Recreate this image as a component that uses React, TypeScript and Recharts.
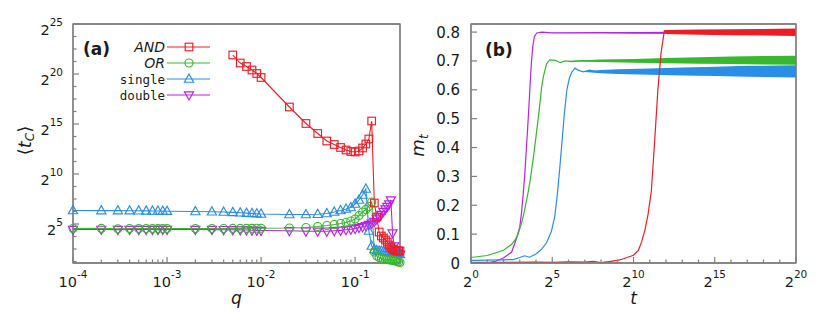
import React from 'react';
import { ComposedChart, Line, Area, XAxis, YAxis, Legend, ReferenceArea } from 'recharts';

const FONT = '"DejaVu Sans", "Liberation Sans", Arial, sans-serif';
const MONO = '"DejaVu Sans Mono", "Liberation Mono", monospace';
const FRAME = '#808080';
const INK = '#1a1a1a';

const RED = '#ee1c25';
const GREEN = '#37b82e';
const BLUE = '#2a8de6';
const PURPLE = '#bb22e8';

// ---- panel (a): <t_C> against q, values are log2 <t_C>
const qValues = [
  0.0001, 0.0002, 0.0003, 0.0004, 0.0005, 0.0006, 0.0007, 0.0008, 0.0009, 0.001,
  0.002, 0.003, 0.004, 0.005, 0.006, 0.007, 0.008, 0.009, 0.01,
  0.02, 0.03, 0.04, 0.05, 0.06, 0.07, 0.08, 0.09, 0.1,
  0.11, 0.12, 0.13, 0.14, 0.15, 0.16, 0.17, 0.18, 0.19, 0.2,
  0.21, 0.22, 0.23, 0.24, 0.25, 0.26, 0.27, 0.28, 0.29, 0.3,
];
// AND only starts at q = 0.005
const andFirst = 13;
const andLog2 = [
  21.9, 21.1, 20.75, 20.4, 20.05, 19.65,
  16.7, 15.05, 14.05, 13.3, 12.95, 12.65, 12.4, 12.25, 12.2,
  12.3, 12.6, 13.0, 13.5, 15.3, 7.1, 5.7, 4.2, 3.8, 3.6,
  3.4, 3.2, 2.9, 2.65, 2.5, 2.4, 2.35, 2.3, 2.3, 2.3,
];
const orLog2 = [
  4.55, 4.56, 4.53, 4.55, 4.54, 4.55, 4.55, 4.54, 4.55, 4.55,
  4.55, 4.55, 4.55, 4.56, 4.56, 4.57, 4.57, 4.58, 4.58,
  4.6, 4.65, 4.75, 4.85, 4.95, 5.05, 5.15, 5.3, 5.5,
  5.85, 6.2, 6.45, 6.75, 7.2, 2.2, 1.8, 1.65, 1.55, 1.5,
  1.45, 1.45, 1.4, 1.4, 1.35, 1.35, 1.3, 1.25, 1.2, 1.15,
];
const singleLog2 = [
  6.35, 6.34, 6.34, 6.33, 6.32, 6.31, 6.3, 6.3, 6.29, 6.28,
  6.25, 6.22, 6.2, 6.16, 6.12, 6.09, 6.06, 6.03, 6.0,
  5.95, 5.95, 5.97, 6.05, 6.2, 6.35, 6.5, 6.65, 7.0,
  7.4, 7.9, 8.5, 4.3, 2.8, 2.45, 2.35, 2.3, 2.3, 2.25,
  2.25, 2.2, 2.2, 2.15, 2.15, 2.1, 2.05, 2.0, 2.0, 1.95,
];
const doubleLog2 = [
  4.45, 4.46, 4.44, 4.45, 4.44, 4.45, 4.45, 4.44, 4.45, 4.45,
  4.45, 4.44, 4.43, 4.42, 4.41, 4.4, 4.38, 4.36, 4.35,
  4.32, 4.28, 4.27, 4.28, 4.32, 4.36, 4.42, 4.48, 4.55,
  4.65, 4.72, 4.82, 4.95, 5.08, 5.25, 5.5, 5.7, 5.95, 6.25,
  6.5, 6.75, 7.0, 7.4, 4.1, 2.8, 2.3, 2.1, 2.0, 1.95,
];

const qMajors = [0.0001, 0.001, 0.01, 0.1];
const qMin = 0.0001;
const qMax = 0.3;
const tcMajorExps = [5, 10, 15, 20, 25];
const tcMin = 2 ** 1.1;
const tcMax = 2 ** 25;

// ---- panel (b): m_t against t, x values are log2 t
const doubleT = [0, 1, 1.5, 2, 2.5, 2.8, 3, 3.1, 3.2, 3.3, 3.4, 3.5, 3.6, 3.7, 3.8, 3.9, 4.05, 4.35, 5, 6, 8, 10, 12];
const doubleM = [0, 0, 0.006, 0.017, 0.038, 0.085, 0.125, 0.17, 0.23, 0.3, 0.39, 0.48, 0.58, 0.68, 0.75, 0.785, 0.797, 0.8, 0.797, 0.797, 0.798, 0.797, 0.797];
const orT = [0, 1, 2, 2.5, 2.7, 2.9, 3.1, 3.3, 3.5, 3.65, 3.85, 4.15, 4.35, 4.45, 4.65, 4.85, 5.2, 5.5, 5.8, 6.2, 7, 8, 10, 12, 14, 16, 18, 20];
const orM = [0.019, 0.026, 0.044, 0.065, 0.079, 0.1, 0.136, 0.183, 0.24, 0.29, 0.37, 0.506, 0.61, 0.645, 0.69, 0.704, 0.702, 0.694, 0.7, 0.698, 0.701, 0.7, 0.7, 0.7, 0.7, 0.701, 0.7, 0.7];
const singleT = [0, 1, 2, 2.6, 3, 3.3, 3.6, 4, 4.35, 4.65, 4.95, 5.15, 5.3, 5.45, 5.6, 5.75, 5.9, 6.05, 6.2, 6.4, 6.6, 6.9, 7.3, 8, 10, 12, 14, 16, 18, 20];
const singleM = [0.009, 0.01, 0.011, 0.012, 0.019, 0.025, 0.02, 0.031, 0.048, 0.07, 0.11, 0.16, 0.23, 0.32, 0.42, 0.52, 0.6, 0.64, 0.661, 0.675, 0.668, 0.662, 0.668, 0.66, 0.662, 0.662, 0.663, 0.664, 0.664, 0.664];
const andT = [0, 2, 4, 5, 6, 7, 7.5, 8, 8.5, 9, 9.3, 9.6, 10, 10.3, 10.5, 10.7, 10.9, 11.1, 11.3, 11.5, 11.7, 11.9, 12, 14, 16, 18, 20];
const andM = [0.002, 0.002, 0.003, 0.002, 0.004, 0.003, 0.006, 0.001, 0.005, 0.009, 0.013, 0.019, 0.027, 0.044, 0.073, 0.113, 0.17, 0.25, 0.42, 0.6, 0.73, 0.805, 0.8, 0.8, 0.8, 0.799, 0.8];

// spread of the noisy plateaus (log2 t, low, high)
const doubleBandT = [5, 12, 20];
const doubleLo = [0.797, 0.794, 0.792];
const doubleHi = [0.798, 0.801, 0.803];
const orBandT = [6, 8, 10, 12, 14, 16, 18, 20];
const orLo = [0.699, 0.696, 0.694, 0.692, 0.69, 0.689, 0.688, 0.687];
const orHi = [0.701, 0.705, 0.707, 0.71, 0.713, 0.715, 0.717, 0.718];
const singleBandT = [7, 8, 9, 11, 13, 15, 17, 20];
const singleLo = [0.662, 0.657, 0.655, 0.652, 0.65, 0.648, 0.645, 0.643];
const singleHi = [0.664, 0.669, 0.671, 0.674, 0.677, 0.68, 0.683, 0.685];
const andBandT = [11.9, 12, 14, 16, 18, 20];
const andLo = [0.8, 0.793, 0.791, 0.789, 0.788, 0.786];
const andHi = [0.805, 0.807, 0.809, 0.81, 0.811, 0.812];

const mTicks = [0, 0.1, 0.2, 0.3, 0.4, 0.5, 0.6, 0.7, 0.8];
const mMax = 0.828;
const tMajorExps = [0, 5, 10, 15, 20];

// ---- tables
const tcRows = (qs: number[], ex: number[]) => qs.map((q, i) => ({ q, tc: 2 ** ex[i] }));
const andRows = tcRows(qValues.slice(andFirst), andLog2);
const orRows = tcRows(qValues, orLog2);
const singleRows = tcRows(qValues, singleLog2);
const doubleRows = tcRows(qValues, doubleLog2);

const mRows = (ts: number[], ms: number[]) => ts.map((e, i) => ({ t: 2 ** e, m: ms[i] }));
const bandRows = (ts: number[], lo: number[], hi: number[]) => ts.map((e, i) => ({ t: 2 ** e, band: [lo[i], hi[i]] }));

const qTicks: number[] = [];
qMajors.forEach((d) => {
  for (let k = 1; k <= 9; k++) if (k * d <= qMax + 1e-9) qTicks.push(k * d);
});
const tcTicks: number[] = [];
for (let e = 1.25; e <= 25.001; e += 1.25) tcTicks.push(2 ** e);
const tTicks: number[] = [];
for (let e = 0; e <= 20; e++) tTicks.push(2 ** e);

// inward tick marks, labels on bottom / left only
const AxisTick = (props: any) => {
  const { x, y, payload, side, kind } = props;
  const v = payload.value;
  let major = true;
  let base = '';
  let exp = '';
  if (kind === 'q') {
    const e = Math.log10(v);
    major = qMajors.some((m) => Math.abs(m - v) < 1e-12);
    base = '10';
    exp = String(Math.round(e));
  } else if (kind === 'tc' || kind === 't') {
    const e = Math.log2(v);
    const r = Math.round(e);
    const majors = kind === 'tc' ? tcMajorExps : tMajorExps;
    major = Math.abs(e - r) < 1e-6 && majors.includes(r);
    base = '2';
    exp = String(r);
  }
  const len = major ? 6 : 3.5;
  const tl = { stroke: FRAME, strokeWidth: 1.2 };
  let mark;
  if (side === 'bottom') mark = <line x1={x} y1={y} x2={x} y2={y - len} {...tl} />;
  else if (side === 'top') mark = <line x1={x} y1={y} x2={x} y2={y + len} {...tl} />;
  else if (side === 'left') mark = <line x1={x} y1={y} x2={x + len} y2={y} {...tl} />;
  else mark = <line x1={x} y1={y} x2={x - len} y2={y} {...tl} />;

  let label = null;
  if (major && side === 'bottom') {
    label = (
      <text x={x} y={y + 24} textAnchor="middle" fontSize={14.5} fill={INK} fontFamily={FONT}>
        {base}
        <tspan dy={-9} fontSize={10.5}>{exp}</tspan>
      </text>
    );
  } else if (major && side === 'left') {
    if (kind === 'm') {
      label = (
        <text x={x - 11} y={y + 5.5} textAnchor="end" fontSize={15} fill={INK} fontFamily={FONT}>
          {v === 0 ? '0' : v.toFixed(1)}
        </text>
      );
    } else {
      label = (
        <text x={x - 10} y={y + 11} textAnchor="end" fontSize={14.5} fill={INK} fontFamily={FONT}>
          {base}
          <tspan dy={-9} fontSize={10.5}>{exp}</tspan>
        </text>
      );
    }
  }
  return (
    <g>
      {mark}
      {label}
    </g>
  );
};

type Shape = 'square' | 'circle' | 'up' | 'down';

const Marker = ({ cx, cy, shape, color }: { cx: number; cy: number; shape: Shape; color: string }) => {
  if (cx == null || cy == null) return null;
  if (shape === 'square')
    return <rect x={cx - 3.8} y={cy - 3.8} width={7.6} height={7.6} fill="none" stroke={color} strokeWidth={1.15} />;
  if (shape === 'circle') return <circle cx={cx} cy={cy} r={4} fill="none" stroke={color} strokeWidth={1.15} />;
  if (shape === 'up')
    return <path d={`M${cx},${cy - 5} L${cx + 4.6},${cy + 3.2} L${cx - 4.6},${cy + 3.2} Z`} fill="none" stroke={color} strokeWidth={1.15} />;
  return <path d={`M${cx},${cy + 5} L${cx + 4.6},${cy - 3.2} L${cx - 4.6},${cy - 3.2} Z`} fill="none" stroke={color} strokeWidth={1.15} />;
};

const dotOf = (shape: Shape, color: string) => (p: any) => (
  <Marker key={`m-${shape}-${p.index}`} cx={p.cx} cy={p.cy} shape={shape} color={color} />
);

const legendInfo: Record<string, { shape: Shape; mono: boolean; order: number }> = {
  AND: { shape: 'square', mono: false, order: 0 },
  OR: { shape: 'circle', mono: false, order: 1 },
  single: { shape: 'up', mono: true, order: 2 },
  double: { shape: 'down', mono: true, order: 3 },
};

const LegendBox = (props: any) => {
  const items = [...(props.payload || [])]
    .filter((a: any) => legendInfo[a.value])
    .sort((a: any, b: any) => legendInfo[a.value].order - legendInfo[b.value].order);
  return (
    <svg width={230} height={110}>
      {items.map((it: any, i: number) => {
        const info = legendInfo[it.value];
        const cy = 47 + i * 16;
        return (
          <g key={it.value}>
            <text
              x={165}
              y={cy + 5}
              textAnchor="end"
              fill={INK}
              fontSize={info.mono ? 12.5 : 14}
              fontStyle={info.mono ? 'normal' : 'italic'}
              fontFamily={info.mono ? MONO : FONT}
            >
              {it.value}
            </text>
            <line x1={167} y1={cy} x2={210} y2={cy} stroke={it.color} strokeWidth={1.2} />
            <Marker cx={189} cy={cy} shape={info.shape} color={it.color} />
          </g>
        );
      })}
    </svg>
  );
};

const xTitle = (name: string) => (p: any) => (
  <text
    x={p.viewBox.x + p.viewBox.width / 2}
    y={p.viewBox.y + 41}
    textAnchor="middle"
    fontSize={17}
    fontStyle="italic"
    fill={INK}
    fontFamily={FONT}
  >
    {name}
  </text>
);

// y title plus the panel tag in the plot's top-left corner
const tcTitle = (p: any) => (
  <g>
    <text
      transform={`translate(${p.viewBox.x + 18},${p.viewBox.y + p.viewBox.height / 2 - 3}) rotate(-90)`}
      textAnchor="middle"
      fontSize={18}
      fill={INK}
      fontFamily={FONT}
    >
      {'\u27E8'}
      <tspan fontStyle="italic">t</tspan>
      <tspan fontSize={12} dy={3} fontStyle="italic">C</tspan>
      <tspan dy={-3}>{'\u27E9'}</tspan>
    </text>
    <text x={p.viewBox.x + p.viewBox.width + 10} y={p.viewBox.y + 31} fontSize={17} fontWeight="bold" fill={INK} fontFamily={FONT}>
      (a)
    </text>
  </g>
);

const mTitle = (p: any) => (
  <g>
    <text
      transform={`translate(${p.viewBox.x + 13},${p.viewBox.y + p.viewBox.height / 2 + 2}) rotate(-90)`}
      textAnchor="middle"
      fontSize={18}
      fontStyle="italic"
      fill={INK}
      fontFamily={FONT}
    >
      m<tspan fontSize={12} dy={4}>t</tspan>
    </text>
    <text x={p.viewBox.x + p.viewBox.width + 14} y={p.viewBox.y + 32} fontSize={17} fontWeight="bold" fill={INK} fontFamily={FONT}>
      (b)
    </text>
  </g>
);

const axisCommon = {
  type: 'number' as const,
  interval: 0 as const,
  tickSize: 0,
  tickMargin: 0,
  tickLine: false,
  axisLine: { stroke: FRAME, strokeWidth: 1.3 },
};

const PanelA = () => (
  <ComposedChart width={412} height={320} margin={{ top: 23, right: 11, bottom: 0, left: 13 }} style={{ fontFamily: FONT }}>
    <XAxis
      {...axisCommon}
      xAxisId="q"
      dataKey="q"
      scale="log"
      domain={[qMin, qMax]}
      ticks={qTicks}
      height={57}
      tick={<AxisTick side="bottom" kind="q" />}
      label={{ content: xTitle('q') }}
    />
    <XAxis
      {...axisCommon}
      xAxisId="qTop"
      orientation="top"
      scale="log"
      domain={[qMin, qMax]}
      ticks={qTicks}
      height={1}
      tick={<AxisTick side="top" kind="q" />}
    />
    <YAxis
      {...axisCommon}
      yAxisId="tc"
      dataKey="tc"
      scale="log"
      domain={[tcMin, tcMax]}
      ticks={tcTicks}
      width={60}
      tick={<AxisTick side="left" kind="tc" />}
      label={{ content: tcTitle }}
    />
    <YAxis
      {...axisCommon}
      yAxisId="tcRight"
      orientation="right"
      scale="log"
      domain={[tcMin, tcMax]}
      ticks={tcTicks}
      width={1}
      tick={<AxisTick side="right" kind="tc" />}
    />
    <ReferenceArea
      xAxisId="q"
      yAxisId="tc"
      x1={qMin}
      x2={qMax}
      y1={tcMin}
      y2={tcMax}
      fill="none"
      fillOpacity={0}
      stroke={FRAME}
      strokeWidth={1.3}
      strokeOpacity={1}
      ifOverflow="visible"
    />
    <Legend
      layout="vertical"
      align="center"
      verticalAlign="middle"
      wrapperStyle={{ left: 0, top: 0, width: 230, height: 110 }}
      content={<LegendBox />}
    />
    <Line xAxisId="q" yAxisId="tc" data={doubleRows} dataKey="tc" name="double" stroke={PURPLE} strokeWidth={1.1} dot={dotOf('down', PURPLE)} isAnimationActive={false} />
    <Line xAxisId="q" yAxisId="tc" data={singleRows} dataKey="tc" name="single" stroke={BLUE} strokeWidth={1.1} dot={dotOf('up', BLUE)} isAnimationActive={false} />
    <Line xAxisId="q" yAxisId="tc" data={orRows} dataKey="tc" name="OR" stroke={GREEN} strokeWidth={1.1} dot={dotOf('circle', GREEN)} isAnimationActive={false} />
    <Line xAxisId="q" yAxisId="tc" data={andRows} dataKey="tc" name="AND" stroke={RED} strokeWidth={1.1} dot={dotOf('square', RED)} isAnimationActive={false} />
  </ComposedChart>
);

const series = [
  { name: 'double', color: PURPLE, rows: mRows(doubleT, doubleM), band: bandRows(doubleBandT, doubleLo, doubleHi) },
  { name: 'OR', color: GREEN, rows: mRows(orT, orM), band: bandRows(orBandT, orLo, orHi) },
  { name: 'single', color: BLUE, rows: mRows(singleT, singleM), band: bandRows(singleBandT, singleLo, singleHi) },
  { name: 'AND', color: RED, rows: mRows(andT, andM), band: bandRows(andBandT, andLo, andHi) },
];

const PanelB = () => (
  <ComposedChart width={422} height={320} margin={{ top: 23, right: 25, bottom: 0, left: 11 }} style={{ fontFamily: FONT }}>
    <XAxis
      {...axisCommon}
      xAxisId="t"
      dataKey="t"
      scale="log"
      domain={[1, 2 ** 20]}
      ticks={tTicks}
      height={57}
      tick={<AxisTick side="bottom" kind="t" />}
      label={{ content: xTitle('t') }}
    />
    <XAxis
      {...axisCommon}
      xAxisId="tTop"
      orientation="top"
      scale="log"
      domain={[1, 2 ** 20]}
      ticks={tTicks}
      height={1}
      tick={<AxisTick side="top" kind="t" />}
    />
    <YAxis
      {...axisCommon}
      yAxisId="m"
      dataKey="m"
      domain={[0, mMax]}
      ticks={mTicks}
      width={60}
      tick={<AxisTick side="left" kind="m" />}
      label={{ content: mTitle }}
    />
    <YAxis
      {...axisCommon}
      yAxisId="mRight"
      orientation="right"
      domain={[0, mMax]}
      ticks={mTicks}
      width={1}
      tick={<AxisTick side="right" kind="m" />}
    />
    <ReferenceArea
      xAxisId="t"
      yAxisId="m"
      x1={1}
      x2={2 ** 20}
      y1={0}
      y2={mMax}
      fill="none"
      fillOpacity={0}
      stroke={FRAME}
      strokeWidth={1.3}
      strokeOpacity={1}
      ifOverflow="visible"
    />
    {series.map((s) => [
      <Line
        key={`${s.name}-line`}
        xAxisId="t"
        yAxisId="m"
        data={s.rows}
        dataKey="m"
        name={s.name}
        stroke={s.color}
        strokeWidth={1.2}
        dot={false}
        isAnimationActive={false}
      />,
      <Area
        key={`${s.name}-band`}
        xAxisId="t"
        yAxisId="m"
        data={s.band}
        dataKey="band"
        name={`${s.name} spread`}
        stroke="none"
        fill={s.color}
        fillOpacity={1}
        isAnimationActive={false}
      />,
    ])}
  </ComposedChart>
);

export default function App() {
  return (
    <div style={{ position: 'absolute', left: 0, top: 0, width: 822, height: 320, background: '#fff' }}>
      <div style={{ position: 'absolute', left: 0, top: 0 }}>
        <PanelA />
      </div>
      <div style={{ position: 'absolute', left: 400, top: 0 }}>
        <PanelB />
      </div>
    </div>
  );
}
